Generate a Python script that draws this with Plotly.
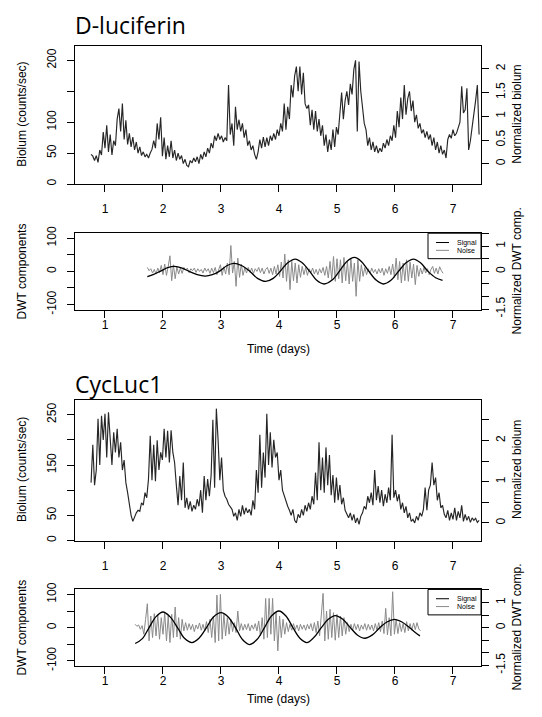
import numpy as np
import plotly.graph_objects as go

# The page body has an 8px margin, so the figure is sized to fill the 542x717 window exactly.
OFF = 8
SW, SH = 542, 717
FW, FH = SW - 2 * OFF, SH - 2 * OFF

# ---------------- data ----------------
days = [1, 2, 3, 4, 5, 6, 7]

dluc_t_start, dluc_t_end = 0.76, 7.45
dluc_biolum = [
    48, 45, 38, 46, 35, 55, 47, 84, 58, 95,
    52, 80, 47, 70, 62, 105, 122, 85, 130, 72,
    103, 64, 82, 60, 76, 55, 68, 50, 60, 46,
    52, 44, 48, 42, 50, 56, 70, 58, 98, 72,
    108, 45, 75, 40, 62, 44, 70, 42, 55, 38,
    50, 40, 46, 33, 40, 30, 28, 38, 34, 42,
    36, 44, 33, 48, 40, 52, 44, 58, 50, 66,
    58, 78, 70, 82, 72, 78, 68, 75, 70, 160,
    80, 98, 62, 125, 88, 104, 85, 98, 75, 88,
    62, 70, 55, 62, 48, 40, 52, 72, 58, 76,
    60, 75, 62, 78, 70, 82, 72, 88, 78, 98,
    85, 130, 88, 125, 105, 160, 140, 175, 190, 150,
    190, 145, 180, 130, 122, 128, 95, 120, 88, 118,
    85, 105, 78, 95, 62, 80, 52, 72, 55, 88,
    60, 92, 80, 110, 148, 105, 135, 150, 128, 162,
    145, 185, 200, 85, 198, 150, 118, 98, 88, 62,
    75, 55, 68, 52, 62, 50, 58, 52, 66, 58,
    72, 62, 78, 70, 95, 75, 118, 92, 140, 105,
    160, 112, 138, 150, 118, 135, 100, 112, 90, 98,
    82, 88, 75, 85, 72, 80, 62, 75, 55, 68,
    50, 62, 48, 55, 42, 72, 80, 74, 88, 78,
    82, 92, 100, 158, 115, 120, 155, 55, 70, 92,
    110, 135, 160, 80,
]

cyc_t_start, cyc_t_end = 0.76, 7.45
cyc_biolum = [
    115, 190, 110, 140, 242, 150, 248, 200, 252, 165,
    255, 190, 150, 215, 175, 222, 165, 195, 140, 160,
    115, 95, 70, 50, 38, 48, 55, 60, 58, 75,
    70, 95, 85, 122, 208, 120, 190, 118, 199, 140,
    175, 160, 222, 165, 218, 155, 219, 175, 155, 110,
    70, 128, 80, 155, 65, 85, 62, 78, 58, 70,
    62, 82, 68, 100, 55, 128, 80, 122, 88, 130,
    240, 105, 262, 200, 120, 165, 100, 88, 82, 72,
    68, 62, 48, 55, 40, 62, 48, 70, 52, 65,
    55, 62, 50, 80, 62, 140, 95, 210, 105, 175,
    125, 252, 150, 215, 145, 200, 165, 175, 120, 140,
    100, 88, 75, 68, 60, 50, 62, 40, 35, 52,
    45, 62, 50, 70, 58, 75, 62, 88, 72, 135,
    80, 195, 100, 165, 95, 185, 110, 170, 90, 130,
    75, 125, 80, 110, 72, 85, 60, 52, 45, 55,
    40, 52, 35, 45, 32, 48, 55, 68, 62, 88,
    75, 95, 70, 140, 80, 108, 75, 100, 68, 92,
    75, 105, 80, 210, 85, 100, 78, 92, 62, 75,
    55, 68, 45, 55, 38, 42, 35, 48, 40, 55,
    48, 62, 105, 60, 100, 110, 155, 110, 125, 80,
    95, 65, 70, 52, 45, 60, 40, 55, 42, 65,
    40, 58, 45, 70, 38, 52, 40, 48, 36, 45,
    40, 44, 36, 40,
]

dluc_signal_t = [1.73, 1.84, 1.95, 2.08, 2.20, 2.33, 2.45, 2.59, 2.73, 2.85,
                 2.97, 3.10, 3.22, 3.36, 3.50, 3.63, 3.77, 3.90, 4.02, 4.15,
                 4.28, 4.40, 4.53, 4.65, 4.78, 4.91, 5.04, 5.17, 5.30, 5.42,
                 5.55, 5.68, 5.80, 5.93, 6.06, 6.19, 6.32, 6.44, 6.57, 6.70, 6.82]
dluc_signal_v = [-16, -9, 0, 11, 15, 10, 0, -10, -14, -10,
                 0, 17, 24, 17, 0, -21, -30, -21, 0, 26,
                 37, 26, 0, -27, -38, -27, 0, 30, 42, 30,
                 0, -27, -38, -27, 0, 26, 37, 26, 0, -19, -27]

dluc_noise_t_start, dluc_noise_t_end = 1.73, 6.83
dluc_noise = [
    12, 2, 8, -5, 6, -8, 10, -4, 18, -10,
    22, -12, 15, 47, -28, 20, -22, 14, -8, 10,
    -6, 12, 4, 10, -4, 8, 2, 10, -3, 8,
    0, 6, -5, 10, 0, 8, -6, 10, -4, 12,
    -10, 8, 20, -12, 14, -8, 25, -10, 78, -5,
    30, -45, 40, -18, 22, -12, 10, -5, 12, -3,
    10, -6, 8, 0, 12, -4, 10, -8, 6, 12,
    -6, 10, -10, 15, -8, 20, -15, 28, -20, 52,
    -30, 35, -55, 30, -28, 25, -35, 20, -18, 15,
    -10, 12, -12, 8, -4, 10, -8, 6, -10, 8,
    -5, 12, -12, 15, -20, 30, -25, 45, -30, 38,
    -22, 35, -35, 42, -28, 30, -38, 40, -30, 25,
    -75, 35, -30, 20, -15, 12, -10, 8, -6, 10,
    -4, 6, -8, 8, -5, 10, -12, 8, -6, 15,
    -10, 22, -18, 40, -25, 30, -35, 25, -28, 35,
    -30, 28, -20, 22, -40, 18, -15, 10, -8, 12,
    -5, 8, -10, 6, 15, -6, 10, -8, 14, 2, -6,
]

cyc_signal_t = [1.52, 1.64, 1.76, 1.88, 2.00, 2.12, 2.25, 2.37, 2.50, 2.62,
                2.75, 2.87, 3.00, 3.12, 3.25, 3.37, 3.49, 3.62, 3.75, 3.87,
                4.00, 4.12, 4.24, 4.36, 4.48, 4.60, 4.73, 4.85, 4.97, 5.10,
                5.23, 5.35, 5.48, 5.61, 5.74, 5.86, 5.99, 6.12, 6.25, 6.35, 6.43]
cyc_signal_v = [-48, -34, 0, 33, 47, 33, 0, -32, -45, -32,
                0, 32, 45, 33, 0, -36, -51, -36, 0, 35,
                50, 35, 0, -32, -45, -30, 0, 25, 36, 25,
                0, -22, -32, -22, 0, 17, 25, 17, 0, -15, -25]

cyc_noise_t_start, cyc_noise_t_end = 1.52, 6.44
cyc_noise = [
    10, 4, 8, -5, 6, -20, 25, 72, -40, 35,
    -30, 42, -25, 38, -35, 30, -20, 45, -40, 35,
    -45, 40, -30, 62, -28, 30, -35, 25, -10, 15,
    -8, 12, -6, 10, -12, 8, -4, 14, -8, 10,
    -10, 18, -15, 25, -30, 35, -45, 98, -40, 100,
    -35, 40, -25, 30, -20, 25, -12, 15, -15, 50,
    -10, 12, -8, 10, -6, 12, -10, 8, -5, 12,
    -10, 20, -25, 30, -35, 88, -30, 88, -20, 88,
    -40, 45, -70, 35, -30, 25, -20, 15, -12, 10,
    -8, 12, -6, 8, -10, 10, -5, 8, -8, 10,
    -4, 12, -10, 15, -15, 20, -25, 30, 103, -40,
    50, -35, 55, -30, 45, -38, 40, -30, 35, -25,
    30, -20, 15, -12, 10, -8, 12, -6, 10, -10,
    8, -5, 12, -8, 10, -6, 8, -10, 12, -8,
    15, -12, 20, -18, 58, -22, 30, -25, 108, -20,
    25, -18, 15, -12, 12, -15, 18, -10, 12, -8,
    14, -6, 15, -4, -10,
]

# ---------------- layout helpers (screen pixel -> paper) ----------------
def px(x):
    return (x - OFF) / FW

def py(y):
    return 1 - (y - OFF) / FH

def xdom(l, r):
    return [px(l), px(r)]

def ydom(top, bot):
    return [py(bot), py(top)]

BOX_L, BOX_R = 75, 481
PANELS = {"A": (39.2, 180.7), "B": (231, 309), "C": (401, 545), "D": (595, 673)}
XRANGE = [0.483, 7.483]

FONT = "Liberation Sans, Arial, Helvetica, sans-serif"
tickfont = dict(family=FONT, size=12, color="black")

base_axis = dict(showline=True, linecolor="black", linewidth=1, mirror=True,
                 ticks="outside", ticklen=7, tickwidth=1, tickcolor="black",
                 showgrid=False, zeroline=False, tickfont=tickfont)

fig = go.Figure()

def tgrid(a, b, n):
    return np.linspace(a, b, n)

BIO_COL = "#262626"
NOISE_COL = "#8a8a8a"

fig.add_trace(go.Scatter(x=tgrid(dluc_t_start, dluc_t_end, len(dluc_biolum)), y=dluc_biolum,
                         mode="lines", line=dict(color=BIO_COL, width=1.15), xaxis="x", yaxis="y",
                         showlegend=False))
fig.add_trace(go.Scatter(x=tgrid(dluc_noise_t_start, dluc_noise_t_end, len(dluc_noise)), y=dluc_noise,
                         mode="lines", line=dict(color=NOISE_COL, width=1), xaxis="x2", yaxis="y2",
                         showlegend=False))
fig.add_trace(go.Scatter(x=dluc_signal_t, y=dluc_signal_v, mode="lines",
                         line=dict(color="black", width=1.3, shape="spline"), xaxis="x2", yaxis="y2",
                         showlegend=False))
fig.add_trace(go.Scatter(x=tgrid(cyc_t_start, cyc_t_end, len(cyc_biolum)), y=cyc_biolum,
                         mode="lines", line=dict(color=BIO_COL, width=1.15), xaxis="x3", yaxis="y3",
                         showlegend=False))
fig.add_trace(go.Scatter(x=tgrid(cyc_noise_t_start, cyc_noise_t_end, len(cyc_noise)), y=cyc_noise,
                         mode="lines", line=dict(color=NOISE_COL, width=1), xaxis="x4", yaxis="y4",
                         showlegend=False))
fig.add_trace(go.Scatter(x=cyc_signal_t, y=cyc_signal_v, mode="lines",
                         line=dict(color="black", width=1.3, shape="spline"), xaxis="x4", yaxis="y4",
                         showlegend=False))
for ya, xa in [("y5", "x"), ("y6", "x2"), ("y7", "x3"), ("y8", "x4")]:
    fig.add_trace(go.Scatter(x=[None], y=[None], xaxis=xa, yaxis=ya, showlegend=False,
                             hoverinfo="skip"))

layout = dict(width=FW, height=FH, margin=dict(l=0, r=0, t=0, b=0),
              paper_bgcolor="white", plot_bgcolor="white", showlegend=False)

xkeys = ["xaxis", "xaxis2", "xaxis3", "xaxis4"]
ykeys = ["yaxis", "yaxis2", "yaxis3", "yaxis4"]
anchors_y = ["y", "y2", "y3", "y4"]
anchors_x = ["x", "x2", "x3", "x4"]
standoffs = [7, -3, 7, -3]
for i, p in enumerate("ABCD"):
    layout[xkeys[i]] = dict(base_axis, domain=xdom(BOX_L, BOX_R), range=XRANGE, anchor=anchors_y[i],
                            tickvals=days, ticktext=[str(d) for d in days],
                            ticklabelstandoff=standoffs[i])

left_cfg = [
    ([0, 224.0], [0, 50, 100, 150, 200], ["0", "50", "100", "", "200"]),
    ([-115, 115], [-100, -50, 0, 50, 100], ["-100", "", "0", "", "100"]),
    ([0, 280], [0, 50, 100, 150, 200, 250], ["0", "50", "", "150", "", "250"]),
    ([-115, 115], [-100, -50, 0, 50, 100], ["-100", "", "0", "", "100"]),
]
right_cfg = [
    ([-0.427, 2.49], [0, 0.5, 1, 1.5, 2], ["0", "0.5", "1", "1.5", "2"]),
    ([-1.52, 1.52], [-1.5, -1, -0.5, 0, 0.5, 1, 1.5], ["-1.5", "", "", "0", "", "1", ""]),
    ([-0.428, 2.99], [0, 0.5, 1, 1.5, 2, 2.5], ["0", "", "1", "", "2", ""]),
    ([-1.52, 1.52], [-1.5, -1, -0.5, 0, 0.5, 1, 1.5], ["-1.5", "", "", "0", "", "1", ""]),
]
for i, p in enumerate("ABCD"):
    top, bot = PANELS[p]
    rng, tv, tt = left_cfg[i]
    layout[ykeys[i]] = dict(base_axis, domain=ydom(top, bot), range=rng, anchor=anchors_x[i],
                            tickvals=tv, ticktext=tt, tickangle=-90, ticklabelstandoff=6)
    rng, tv, tt = right_cfg[i]
    layout["yaxis%d" % (i + 5)] = dict(base_axis, showline=False, mirror=False,
                                       overlaying=ykeys[i].replace("axis", ""),
                                       side="right", anchor=anchors_x[i], range=rng,
                                       tickvals=tv, ticktext=tt, tickangle=-90, ticklabelstandoff=2)

fig.update_layout(**layout)

ann = []
def text(x, y, s, size=12, angle=0, xanchor="center", family=FONT, color="black"):
    ann.append(dict(x=px(x), y=py(y), xref="paper", yref="paper", text=s, showarrow=False,
                    textangle=angle, xanchor=xanchor, yanchor="middle",
                    font=dict(family=family, size=size, color=color)))

TITLE_FONT = "Open Sans, Noto Sans, sans-serif"
text(73, 18, "D-luciferin", size=23, xanchor="left", family=TITLE_FONT)
text(73, 385.5, "CycLuc1", size=23, xanchor="left", family=TITLE_FONT)

for p, lt, rt in [("A", "Biolum (counts/sec)", "Normalized biolum"),
                  ("B", "DWT components", "Normalized DWT comp."),
                  ("C", "Biolum (counts/sec)", "Normalized biolum"),
                  ("D", "DWT components", "Normalized DWT comp.")]:
    top, bot = PANELS[p]
    c = (top + bot) / 2
    text(22, c, lt, angle=-90)
    text(517, c, rt, angle=-90)

text((BOX_L + BOX_R) / 2, 349, "Time (days)")
text((BOX_L + BOX_R) / 2, 706.5, "Time (days)")

shapes = []
for p in ["B", "D"]:
    top, bot = PANELS[p]
    shapes.append(dict(type="rect", xref="paper", yref="paper", x0=px(428), x1=px(BOX_R),
                       y0=py(top + 26), y1=py(top), line=dict(color="black", width=1),
                       fillcolor="white"))
    shapes.append(dict(type="line", xref="paper", yref="paper", x0=px(436), x1=px(449),
                       y0=py(top + 9.5), y1=py(top + 9.5), line=dict(color="black", width=1)))
    shapes.append(dict(type="line", xref="paper", yref="paper", x0=px(436), x1=px(449),
                       y0=py(top + 17.5), y1=py(top + 17.5), line=dict(color=NOISE_COL, width=1)))
    text(455, top + 9.5, "Signal", size=7, xanchor="left")
    text(455, top + 17.5, "Noise", size=7, xanchor="left")

fig.update_layout(annotations=ann, shapes=shapes)
fig.write_html("out.html")
